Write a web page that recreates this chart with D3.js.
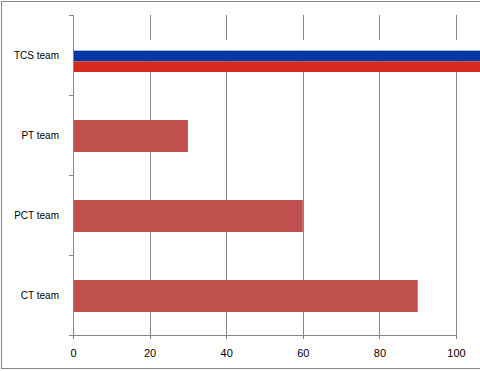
<!DOCTYPE html>
<html>
  <head>
    <script src="https://d3js.org/d3.v7.min.js"></script>
    <style>
      body { margin: 0; background: #fff; }
      svg { display: block; }
      text { font-family: "Liberation Sans", Arial, sans-serif; font-size: 10px; fill: #000; }
      .num { font-size: 11px; }
    </style>
  </head>
  <body>
    <svg width="480" height="371"></svg>
    <script>
      const categories = ["TCS team", "PT team", "PCT team", "CT team"];
      const values = [115, 30, 60, 90];
      const xTicks = [0, 20, 40, 60, 80, 100];
      const flagColors = ["#ffffff", "#0039a6", "#d52b1e"];

      const svg = d3.select("svg");
      const plotLeft = 73, plotTop = 15, plotBottom = 335;

      const x = d3.scaleLinear().domain([0, 100]).range([plotLeft, 456]);
      const y = d3.scaleBand().domain(categories).range([plotTop + 1, plotBottom + 1])
        .paddingInner(0.6).paddingOuter(0.3);

      // outer frame (right side cut off)
      svg.append("rect")
        .attr("x", 1.5).attr("y", 1.5)
        .attr("width", 500).attr("height", 367)
        .attr("fill", "none").attr("stroke", "#878787");

      // vertical gridlines
      svg.append("g")
        .selectAll("line")
        .data(xTicks.slice(1))
        .enter().append("line")
        .attr("x1", d => Math.round(x(d)) + 0.5)
        .attr("x2", d => Math.round(x(d)) + 0.5)
        .attr("y1", plotTop).attr("y2", plotBottom)
        .attr("stroke", "#868686");

      // normal bars
      svg.append("g")
        .selectAll("rect")
        .data(categories.slice(1))
        .enter().append("rect")
        .attr("x", x(0) + 1)
        .attr("y", d => y(d))
        .attr("width", d => x(values[categories.indexOf(d)]) - x(0) - 1)
        .attr("height", y.bandwidth())
        .attr("fill", "#c0504d");

      // TCS bar drawn as a flag
      const stripe = y.bandwidth() / flagColors.length;
      svg.append("g")
        .selectAll("rect")
        .data(flagColors)
        .enter().append("rect")
        .attr("x", x(0) + 1)
        .attr("y", (d, i) => y(categories[0]) + i * stripe)
        .attr("width", x(values[0]) - x(0) - 1)
        .attr("height", stripe)
        .attr("fill", d => d);

      // y axis
      const yAxis = svg.append("g");
      yAxis.append("line")
        .attr("x1", plotLeft + 0.5).attr("x2", plotLeft + 0.5)
        .attr("y1", plotTop).attr("y2", plotBottom + 4)
        .attr("stroke", "#868686");
      const bounds = d3.range(categories.length + 1).map(i => plotTop + i * y.step());
      yAxis.selectAll(".tk")
        .data(bounds)
        .enter().append("line")
        .attr("x1", plotLeft - 4).attr("x2", plotLeft)
        .attr("y1", d => Math.round(d) + 0.5).attr("y2", d => Math.round(d) + 0.5)
        .attr("stroke", "#868686");
      yAxis.selectAll("text")
        .data(categories)
        .enter().append("text")
        .attr("x", 59)
        .attr("y", d => y(d) + y.bandwidth() / 2)
        .attr("text-anchor", "end")
        .attr("dominant-baseline", "middle")
        .text(d => d);

      // x axis
      const xAxis = svg.append("g");
      xAxis.append("line")
        .attr("x1", plotLeft).attr("x2", Math.round(x(100)) + 1)
        .attr("y1", plotBottom + 0.5).attr("y2", plotBottom + 0.5)
        .attr("stroke", "#868686");
      xAxis.selectAll(".tk")
        .data(xTicks)
        .enter().append("line")
        .attr("x1", d => Math.round(x(d)) + 0.5).attr("x2", d => Math.round(x(d)) + 0.5)
        .attr("y1", plotBottom).attr("y2", plotBottom + 4)
        .attr("stroke", "#868686");
      xAxis.selectAll("text")
        .data(xTicks)
        .enter().append("text")
        .attr("class", "num")
        .attr("x", d => x(d) + 0.5)
        .attr("y", 357)
        .attr("text-anchor", "middle")
        .text(d => d);
    </script>
  </body>
</html>
